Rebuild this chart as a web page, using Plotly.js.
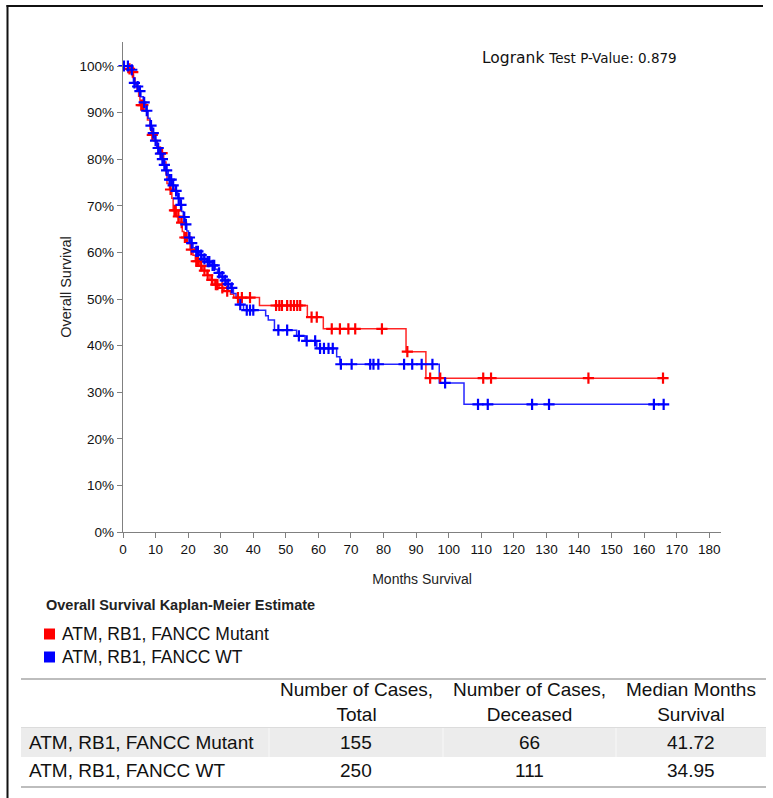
<!DOCTYPE html>
<html>
<head>
<meta charset="utf-8">
<script src="https://cdn.plot.ly/plotly-3.0.1.min.js"></script>
<style>html,body{margin:0;padding:0;background:#fff;}#chart{width:773px;height:798px;}</style>
</head>
<body>
<div id="chart"></div>
<script>
// ---------------- DATA ----------------
const groupNames = ['ATM, RB1, FANCC Mutant', 'ATM, RB1, FANCC WT'];
const groupColors = ['#ff0000', '#0000ff'];

// Mutant: Kaplan-Meier step points (months, survival %)
const mutantStepMonths = [0, 1.5, 2.5, 3.2, 3.7, 4.3, 4.8, 5.2, 6.5, 7.5, 8.3, 8.8, 9.5, 10.5, 11.5, 12.5, 13.2, 13.5, 14.3, 15.0, 15.4, 16.5, 17.5, 18.2, 18.7, 19.8, 20.6, 21.5, 22.2, 23.5, 24.5, 25.8, 26.7, 28.0, 29.5, 31.0, 33.0, 34.0, 41.9, 56.6, 61.5, 86.9, 93.0];
const mutantStepSurvival = [100, 99.4, 98.7, 97.4, 96.1, 94.8, 93.5, 91.6, 90.3, 88.4, 86.5, 85.2, 83.9, 82.6, 81.3, 79.4, 76.8, 74.8, 73.5, 71.6, 69.0, 67.7, 66.4, 64.5, 63.2, 61.9, 60.6, 59.4, 58.1, 57.1, 56.1, 55.1, 54.1, 53.1, 52.4, 51.7, 51.0, 50.3, 48.6, 46.1, 43.6, 38.7, 33.0];
// Mutant: censored cases
const mutantCensorMonths = [2.0, 3.0, 5.6, 6.1, 9.0, 12.0, 14.6, 15.8, 16.2, 17.0, 18.0, 19.0, 19.5, 21.0, 22.5, 23.0, 24.0, 25.0, 26.0, 27.3, 28.5, 29.0, 30.5, 32.0, 35.3, 36.5, 39.0, 47.0, 48.0, 48.8, 50.4, 51.5, 52.5, 53.5, 54.4, 57.9, 59.5, 64.1, 66.6, 69.2, 71.3, 79.5, 87.3, 94.3, 97.4, 110.6, 113.0, 142.9, 165.8];
const mutantCensorSurvival = [99.4, 98.7, 91.6, 91.6, 85.2, 81.3, 73.5, 69.0, 69.0, 67.7, 66.4, 63.2, 63.2, 60.6, 58.1, 58.1, 57.1, 56.1, 55.1, 54.1, 53.1, 53.1, 52.4, 51.7, 50.3, 50.3, 50.3, 48.6, 48.6, 48.6, 48.6, 48.6, 48.6, 48.6, 48.6, 46.1, 46.1, 43.6, 43.6, 43.6, 43.6, 43.6, 38.7, 33.0, 33.0, 33.0, 33.0, 33.0, 33.0];

// WT: Kaplan-Meier step points (months, survival %)
const wtStepMonths = [0, 2.5, 2.9, 3.2, 4.0, 4.8, 5.5, 6.2, 7.0, 7.7, 8.3, 9.0, 9.8, 10.4, 11.2, 11.8, 12.4, 13.0, 13.9, 15.0, 16.0, 16.8, 17.5, 18.0, 18.5, 19.0, 19.6, 20.1, 20.8, 21.5, 22.1, 23.5, 24.6, 25.7, 27.0, 28.3, 29.0, 30.0, 31.0, 31.8, 33.0, 33.9, 34.7, 35.3, 37.0, 43.8, 44.6, 46.5, 53.3, 55.9, 59.5, 65.6, 66.6, 97.1, 104.7];
const wtStepSurvival = [100, 99.2, 98.0, 96.4, 95.6, 94.6, 93.4, 92.2, 90.4, 88.8, 87.2, 85.6, 84.0, 82.4, 81.2, 80.0, 78.8, 77.6, 75.6, 74.4, 73.2, 71.6, 70.2, 68.8, 67.6, 66.0, 64.6, 63.2, 62.0, 61.0, 60.2, 59.4, 58.6, 58.0, 57.2, 56.4, 55.6, 54.8, 54.0, 53.2, 52.4, 51.2, 50.2, 48.8, 47.6, 46.4, 45.5, 43.3, 42.1, 41.0, 39.4, 37.6, 36.0, 32.0, 27.4];
// WT: censored cases
const wtCensorMonths = [0.3, 1.5, 2.7, 3.5, 4.5, 5.2, 6.5, 7.3, 8.6, 9.3, 10.0, 10.8, 11.5, 12.1, 12.7, 13.4, 14.3, 14.8, 15.4, 16.3, 17.1, 17.8, 18.8, 19.3, 20.4, 21.1, 22.5, 23.0, 24.0, 25.0, 26.0, 26.5, 27.5, 28.0, 29.5, 30.5, 31.4, 32.3, 33.4, 36.0, 38.0, 39.0, 40.0, 47.7, 50.4, 54.0, 56.4, 59.0, 60.5, 61.7, 63.1, 64.4, 66.9, 70.2, 75.9, 76.9, 78.4, 86.3, 88.8, 91.7, 95.0, 98.9, 109.0, 112.0, 125.6, 130.8, 163.0, 166.0];
const wtCensorSurvival = [100, 100, 99.2, 96.4, 95.6, 94.6, 92.2, 90.4, 87.2, 85.6, 84.0, 82.4, 81.2, 80.0, 78.8, 77.6, 75.6, 75.6, 74.4, 73.2, 71.6, 70.2, 67.6, 66.0, 63.2, 62.0, 60.2, 60.2, 59.4, 58.6, 58.0, 58.0, 57.2, 57.2, 55.6, 54.8, 54.0, 53.2, 52.4, 48.8, 47.6, 47.6, 47.6, 43.3, 43.3, 42.1, 41.0, 41.0, 39.4, 39.4, 39.4, 39.4, 36.0, 36.0, 36.0, 36.0, 36.0, 36.0, 36.0, 36.0, 36.0, 32.0, 27.4, 27.4, 27.4, 27.4, 27.4, 27.4];

const xTickValues = [0, 10, 20, 30, 40, 50, 60, 70, 80, 90, 100, 110, 120, 130, 140, 150, 160, 170, 180];
const yTickValues = [0, 10, 20, 30, 40, 50, 60, 70, 80, 90, 100];

const pValueText = '0.879';
const tableHeaders = ['', 'Number of Cases,<br>Total', 'Number of Cases,<br>Deceased', 'Median Months<br>Survival'];
const casesTotal = [155, 250];
const casesDeceased = [66, 111];
const medianMonths = [41.72, 34.95];

// ---------------- LAYOUT HELPERS ----------------
const W = 773, H = 798;
const px = x => x / W;
const py = y => 1 - y / H;
const FONT = 'Liberation Sans, Arial, Helvetica, sans-serif';

function stepTrace(months, surv, cMonths, cSurv, color) {
  const lastM = cMonths[cMonths.length - 1];
  const xs = months.concat([Math.max(lastM, months[months.length - 1])]);
  const ys = surv.concat([surv[surv.length - 1]]);
  return {
    x: xs, y: ys, type: 'scatter', mode: 'lines',
    line: {shape: 'hv', color: color, width: 1.5},
    opacity: 0.85, showlegend: false, hoverinfo: 'skip', cliponaxis: false
  };
}
function censorTrace(cMonths, cSurv, color) {
  return {
    x: cMonths, y: cSurv, type: 'scatter', mode: 'markers',
    marker: {symbol: 'cross-thin', size: 8, color: color, line: {color: color, width: 2.2}},
    showlegend: false, hoverinfo: 'skip', cliponaxis: false
  };
}

const data = [
  stepTrace(mutantStepMonths, mutantStepSurvival, mutantCensorMonths, mutantCensorSurvival, groupColors[0]),
  stepTrace(wtStepMonths, wtStepSurvival, wtCensorMonths, wtCensorSurvival, groupColors[1]),
  censorTrace(mutantCensorMonths, mutantCensorSurvival, groupColors[0]),
  censorTrace(wtCensorMonths, wtCensorSurvival, groupColors[1])
];

const xPxPerMonth = 3.257;
const plotLeft = 123, plotRight = 721, plotTop = 42, plotBottom = 532;
const yPxPerPct = 4.66;

const shapes = [
  // outer frame (left and top)
  {type: 'line', xref: 'paper', yref: 'paper', x0: px(7.5), x1: px(7.5), y0: py(5), y1: py(800), line: {color: '#111', width: 2}},
  {type: 'line', xref: 'paper', yref: 'paper', x0: px(6.5), x1: px(763), y0: py(6), y1: py(6), line: {color: '#111', width: 2}}
];
const annotations = [];

// P-value
annotations.push({
  xref: 'paper', yref: 'paper', x: px(480), y: py(58), xanchor: 'left', yanchor: 'middle', showarrow: false,
  text: 'Logrank <span style="font-size:13.5px">Test P-Value: ' + pValueText + '</span>',
  font: {family: 'DejaVu Sans, sans-serif', size: 15.5, color: '#111'}
});

// Chart heading
annotations.push({
  xref: 'paper', yref: 'paper', x: px(44), y: py(605), xanchor: 'left', yanchor: 'middle', showarrow: false,
  text: '<b>Overall Survival Kaplan-Meier Estimate</b>', font: {family: FONT, size: 14.5, color: '#222'}
});

// Legend
groupNames.forEach((name, i) => {
  const cy = 634 + i * 23;
  shapes.push({type: 'rect', xref: 'paper', yref: 'paper', x0: px(44), x1: px(55), y0: py(cy - 5.5), y1: py(cy + 5.5), fillcolor: groupColors[i], line: {width: 0}});
  annotations.push({xref: 'paper', yref: 'paper', x: px(60), y: py(cy), xanchor: 'left', yanchor: 'middle', showarrow: false,
    text: name, font: {family: FONT, size: 17.5, color: '#111'}});
});

// Table
const tLeft = 21, tRight = 766;
const colEdges = [21, 269, 443, 616, 766];
const tTop = 679, headBottom = 727.5, rowH = 29.5, tBottom = 787;
shapes.push({type: 'rect', xref: 'paper', yref: 'paper', x0: px(tLeft), x1: px(tRight), y0: py(headBottom), y1: py(headBottom + rowH), fillcolor: '#ececec', line: {width: 0}, layer: 'below'});
[1, 2, 3].forEach(c => shapes.push({type: 'line', xref: 'paper', yref: 'paper', x0: px(colEdges[c]), x1: px(colEdges[c]), y0: py(headBottom), y1: py(headBottom + rowH), line: {color: '#f8f8f8', width: 1}}));
shapes.push({type: 'line', xref: 'paper', yref: 'paper', x0: px(tLeft), x1: px(tRight), y0: py(tTop), y1: py(tTop), line: {color: '#bdbdbd', width: 2}});
shapes.push({type: 'line', xref: 'paper', yref: 'paper', x0: px(tLeft), x1: px(tRight), y0: py(headBottom), y1: py(headBottom), line: {color: '#dcdcdc', width: 1}});
shapes.push({type: 'line', xref: 'paper', yref: 'paper', x0: px(tLeft), x1: px(tRight), y0: py(tBottom), y1: py(tBottom), line: {color: '#bdbdbd', width: 2}});

const TFS = 19;
for (let c = 1; c < 4; c++) {
  annotations.push({xref: 'paper', yref: 'paper', x: px((colEdges[c] + colEdges[c + 1]) / 2), y: py(702), xanchor: 'center', yanchor: 'middle', align: 'center', showarrow: false,
    text: tableHeaders[c], font: {family: FONT, size: TFS, color: '#111'}});
}
const rowValues = groupNames.map((n, i) => [n, String(casesTotal[i]), String(casesDeceased[i]), medianMonths[i].toFixed(2)]);
rowValues.forEach((row, r) => {
  const cy = 742 + r * 28;
  row.forEach((val, c) => {
    annotations.push({xref: 'paper', yref: 'paper',
      x: c === 0 ? px(27) : px((colEdges[c] + colEdges[c + 1]) / 2), y: py(cy),
      xanchor: c === 0 ? 'left' : 'center', yanchor: 'middle', showarrow: false,
      text: val, font: {family: FONT, size: TFS, color: '#111'}});
  });
});

const layout = {
  width: W, height: H,
  margin: {l: 0, r: 0, t: 0, b: 0, pad: 0},
  paper_bgcolor: '#fff', plot_bgcolor: '#fff',
  font: {family: FONT, color: '#111'},
  showlegend: false,
  xaxis: {
    domain: [px(plotLeft), px(plotRight)],
    range: [0, (plotRight - plotLeft) / xPxPerMonth],
    tickvals: xTickValues, ticktext: xTickValues.map(String),
    showline: true, linecolor: '#808080', linewidth: 1.2,
    ticks: 'outside', ticklen: 5, tickcolor: '#808080', tickwidth: 1,
    showgrid: false, zeroline: false,
    tickfont: {family: FONT, size: 13.5, color: '#111'},
    title: {text: 'Months Survival', font: {family: FONT, size: 14, color: '#222'}, standoff: 17}
  },
  yaxis: {
    domain: [py(plotBottom), py(plotTop)],
    range: [0, (plotBottom - plotTop) / yPxPerPct],
    tickvals: yTickValues, ticktext: yTickValues.map(v => v + '%'),
    showline: true, linecolor: '#808080', linewidth: 1.2,
    ticks: 'outside', ticklen: 5, tickcolor: '#808080', tickwidth: 1,
    showgrid: false, zeroline: false,
    tickfont: {family: FONT, size: 13.5, color: '#111'},
    title: {text: 'Overall Survival', font: {family: FONT, size: 14.5, color: '#222'}, standoff: 4}
  },
  shapes: shapes,
  annotations: annotations
};

Plotly.newPlot('chart', data, layout, {staticPlot: true, displayModeBar: false});
</script>
</body>
</html>
